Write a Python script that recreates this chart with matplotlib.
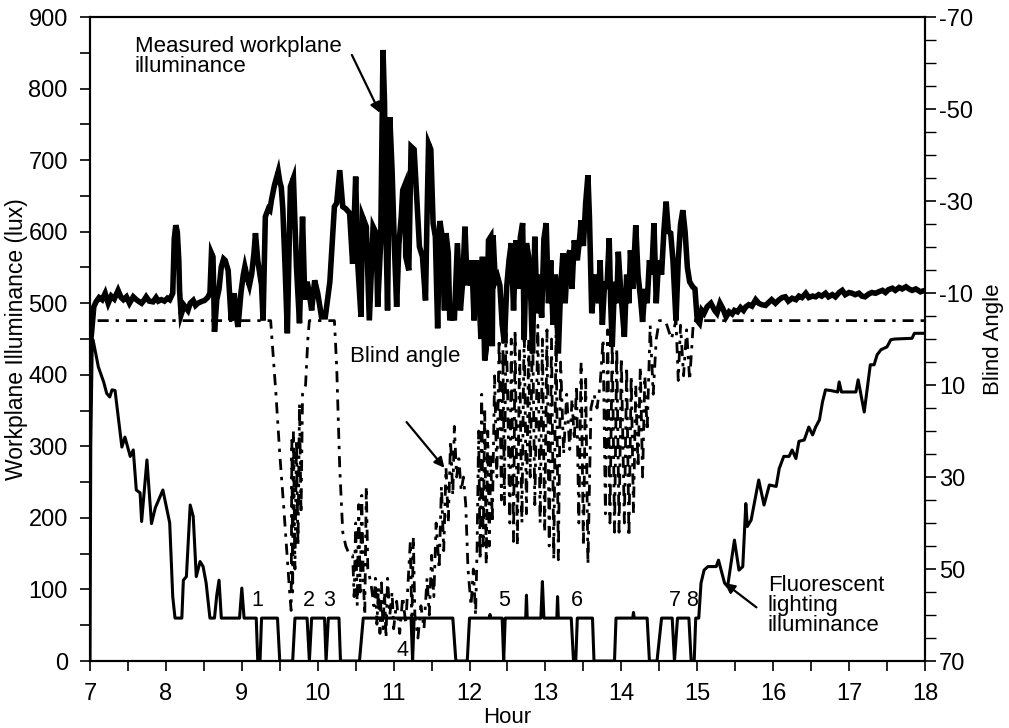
import matplotlib
matplotlib.use('Agg')
import matplotlib.pyplot as plt
from matplotlib.ticker import MultipleLocator

plt.rcParams['font.family'] = ['Liberation Sans', 'DejaVu Sans']
plt.rcParams['font.size'] = 15

# measured workplane illuminance (lux)
meas_h = [7.00, 7.02, 7.05, 7.08, 7.12, 7.16, 7.20, 7.24, 7.28, 7.32, 7.37, 7.41, 7.44, 7.48, 7.52, 7.57,
          7.61, 7.65, 7.68, 7.71, 7.74, 7.78, 7.83, 7.87, 7.90, 7.94, 7.98, 8.02, 8.05, 8.09, 8.11, 8.13,
          8.15, 8.17, 8.18, 8.20, 8.24, 8.29, 8.32, 8.36, 8.39, 8.42, 8.46, 8.51, 8.55, 8.58, 8.60, 8.62,
          8.63, 8.64, 8.67, 8.70, 8.73, 8.76, 8.78, 8.82, 8.86, 8.88, 8.90, 8.93, 8.95, 8.99, 9.02, 9.04,
          9.08, 9.10, 9.13, 9.16, 9.18, 9.21, 9.26, 9.28, 9.31, 9.35, 9.37, 9.39, 9.43, 9.48, 9.50, 9.52,
          9.54, 9.57, 9.60, 9.64, 9.68, 9.72, 9.76, 9.80, 9.83, 9.86, 9.88, 9.92, 9.96, 10.00, 10.05, 10.10,
          10.16, 10.22, 10.25, 10.29, 10.33, 10.37, 10.42, 10.46, 10.50, 10.53, 10.57, 10.59, 10.64, 10.68,
          10.73, 10.77, 10.79, 10.83, 10.86, 10.88, 10.90, 10.92, 10.95, 10.98, 11.01, 11.04, 11.07, 11.10,
          11.12, 11.15, 11.16, 11.20, 11.23, 11.27, 11.30, 11.34, 11.38, 11.42, 11.44, 11.46, 11.49, 11.52,
          11.55, 11.58, 11.61, 11.64, 11.67, 11.69, 11.72, 11.74, 11.77, 11.80, 11.84, 11.88, 11.91, 11.94,
          11.97, 12.00, 12.03, 12.06, 12.09, 12.12, 12.15, 12.17, 12.20, 12.22, 12.25, 12.28, 12.30, 12.31,
          12.34, 12.37, 12.40, 12.43, 12.46, 12.49, 12.52, 12.55, 12.58, 12.61, 12.64, 12.67, 12.70, 12.72,
          12.75, 12.78, 12.81, 12.83, 12.86, 12.89, 12.92, 12.95, 12.98, 13.01, 13.04, 13.07, 13.10, 13.13,
          13.15, 13.17, 13.20, 13.23, 13.26, 13.29, 13.32, 13.35, 13.38, 13.42, 13.45, 13.47, 13.50, 13.53,
          13.56, 13.58, 13.61, 13.64, 13.67, 13.70, 13.72, 13.75, 13.78, 13.81, 13.84, 13.86, 13.88, 13.91,
          13.94, 13.96, 13.99, 14.02, 14.04, 14.07, 14.10, 14.12, 14.15, 14.19, 14.22, 14.25, 14.28, 14.31,
          14.34, 14.37, 14.40, 14.43, 14.46, 14.49, 14.53, 14.56, 14.59, 14.62, 14.65, 14.68, 14.72, 14.75,
          14.78, 14.81, 14.84, 14.87, 14.90, 14.94, 14.97, 15.00, 15.03, 15.06, 15.09, 15.13, 15.18, 15.23,
          15.26, 15.30, 15.34, 15.38, 15.42, 15.46, 15.49, 15.53, 15.57, 15.61, 15.64, 15.68, 15.72, 15.77,
          15.81, 15.85, 15.90, 15.94, 15.98, 16.03, 16.08, 16.12, 16.16, 16.20, 16.25, 16.30, 16.34, 16.38,
          16.43, 16.47, 16.52, 16.56, 16.60, 16.64, 16.69, 16.73, 16.78, 16.82, 16.87, 16.91, 16.95, 17.00,
          17.04, 17.08, 17.13, 17.17, 17.21, 17.26, 17.30, 17.35, 17.39, 17.44, 17.48, 17.52, 17.57, 17.61,
          17.66, 17.70, 17.75, 17.79, 17.83, 17.88, 17.94, 18.00]
meas_lux = [440, 458, 495, 502, 508, 505, 514, 500, 510, 506, 518, 508, 505, 509, 500, 509,
            505, 502, 500, 504, 509, 503, 502, 508, 503, 505, 503, 507, 505, 514, 590, 609,
            600, 560, 518, 484, 497, 490, 500, 504, 497, 500, 502, 504, 508, 514, 570, 565,
            518, 460, 505, 520, 551, 562, 560, 546, 476, 495, 514, 480, 467, 516, 540, 551,
            532, 525, 541, 570, 598, 560, 525, 476, 621, 632, 630, 644, 665, 684, 670, 662,
            632, 551, 458, 663, 675, 551, 472, 621, 505, 530, 520, 490, 532, 514, 481, 481,
            530, 635, 640, 686, 635, 632, 626, 555, 677, 551, 481, 621, 607, 476,
            607, 598, 495, 586, 854, 781, 598, 490, 760, 685, 580, 495, 583, 620,
            658, 666, 565, 546, 719, 715, 657, 579, 565, 504, 620, 723, 715, 612,
            593, 465, 615, 593, 490, 598, 570, 476, 495, 476, 584, 490, 530, 607,
            525, 540, 560, 476, 560, 525, 450, 565, 420, 435, 588, 593, 440, 595,
            530, 537, 525, 470, 444, 523, 560, 584, 490, 588, 520, 593, 612, 449,
            584, 565, 500, 430, 593, 486, 540, 480, 590, 612, 500, 560, 470, 540,
            520, 430, 520, 570, 500, 560, 574, 520, 588, 560, 590, 616, 580, 640,
            679, 620, 486, 520, 540, 500, 560, 470, 530, 520, 591, 500, 439, 530,
            500, 572, 520, 480, 453, 540, 500, 574, 520, 609, 540, 510, 474, 520,
            500, 560, 540, 612, 500, 560, 540, 600, 642, 600, 598, 560, 476, 560,
            610, 630, 600, 550, 530, 523, 520, 476, 472, 490, 486, 495, 500, 490,
            486, 500, 492, 481, 488, 485, 490, 488, 494, 490, 495, 498, 496, 505,
            500, 498, 497, 501, 505, 500, 505, 508, 509, 503, 507, 505, 510, 508,
            514, 508, 510, 509, 512, 510, 514, 509, 512, 509, 515, 518, 512, 515,
            514, 512, 514, 510, 509, 513, 515, 514, 516, 518, 515, 519, 521, 518,
            522, 520, 523, 520, 518, 520, 516, 518]

# fluorescent lighting illuminance (lux)
fl_h = [7.00, 7.01, 7.03, 7.04, 7.11, 7.18, 7.22, 7.26, 7.29, 7.33, 7.42, 7.46, 7.53, 7.57, 7.61, 7.66,
        7.68, 7.75, 7.81, 7.86, 7.96, 8.05, 8.09, 8.12, 8.21, 8.23, 8.27, 8.32, 8.36, 8.40, 8.45, 8.49,
        8.53, 8.58, 8.64, 8.67, 8.70, 8.73, 8.97, 9.00, 9.03, 9.19, 9.21, 9.24, 9.26, 9.47, 9.50, 9.67,
        9.70, 9.86, 9.89, 9.92, 10.09, 10.11, 10.14, 10.28, 10.30, 10.55, 10.60, 11.23, 11.25, 11.27,
        11.78, 11.82, 11.97, 12.00, 12.26, 12.27, 12.28, 12.43, 12.45, 12.47, 12.74, 12.75, 12.76, 12.94,
        12.96, 12.98, 13.15, 13.16, 13.17, 13.34, 13.37, 13.40, 13.42, 13.62, 13.64, 13.91, 13.93, 14.15,
        14.16, 14.17, 14.34, 14.37, 14.47, 14.53, 14.67, 14.70, 14.74, 14.89, 14.92, 14.96, 14.98, 15.02,
        15.05, 15.09, 15.14, 15.25, 15.28, 15.36, 15.40, 15.49, 15.55, 15.60, 15.64, 15.66, 15.71, 15.81,
        15.88, 15.95, 16.04, 16.08, 16.14, 16.21, 16.25, 16.30, 16.34, 16.41, 16.47, 16.52, 16.56, 16.61,
        16.65, 16.69, 16.76, 16.85, 16.87, 16.90, 17.09, 17.12, 17.20, 17.28, 17.33, 17.37, 17.42, 17.50,
        17.55, 17.60, 17.83, 17.86, 17.94, 18.00]
fl_lux = [0, 300, 449, 449, 411, 390, 374, 369, 379, 378, 299, 313, 286, 295, 239, 235,
          195, 281, 192, 214, 239, 193, 90, 60, 60, 113, 118, 218, 202, 118, 139, 132,
          109, 60, 60, 92, 113, 60, 60, 102, 60, 60, 0, 0, 60, 60, 0, 0,
          60, 60, 0, 60, 60, 0, 60, 60, 0, 0, 60, 60, 0, 60,
          60, 0, 0, 60, 60, 65, 60, 60, 0, 60, 60, 92, 60, 60,
          111, 60, 60, 90, 60, 60, 0, 0, 60, 60, 0, 0, 60, 60,
          68, 60, 60, 0, 0, 60, 60, 0, 60, 60, 0, 0, 60, 60,
          109, 127, 132, 132, 141, 109, 104, 169, 127, 132, 220, 188, 197, 253,
          218, 246, 244, 269, 286, 286, 295, 283, 307, 309, 327, 316, 327, 337,
          362, 379, 378, 376, 390, 376, 376, 393, 348, 414, 414, 428, 435, 439,
          449, 450, 451, 458, 458, 458]

# blind angle (degrees, right axis)
bl_h = [7.10, 9.38, 9.45, 9.50, 9.55, 9.60, 9.63, 9.65, 9.66, 9.67, 9.68, 9.70, 9.72, 9.74, 9.76, 9.78,
        9.80, 9.84, 9.87, 9.89, 10.22, 10.25, 10.29, 10.33, 10.37, 10.42, 10.46, 10.48, 10.50, 10.52,
        10.54, 10.56, 10.58, 10.60, 10.62, 10.64, 10.66, 10.70, 10.74, 10.76, 10.78, 10.80, 10.82, 10.84,
        10.86, 10.88, 10.90, 10.92, 10.95, 10.98, 11.00, 11.04, 11.08, 11.12, 11.16, 11.20, 11.22, 11.24,
        11.26, 11.28, 11.32, 11.36, 11.40, 11.44, 11.47, 11.50, 11.53, 11.56, 11.60, 11.63, 11.66, 11.69,
        11.72, 11.75, 11.78, 11.80, 11.83, 11.86, 11.89, 11.92, 11.95, 11.98, 12.02, 12.05, 12.08, 12.10,
        12.12, 12.14, 12.16, 12.18, 12.20, 12.22, 12.24, 12.26, 12.28, 12.30, 12.33, 12.36, 12.39, 12.42,
        12.44, 12.46, 12.48, 12.50, 12.53, 12.55, 12.58, 12.60, 12.63, 12.66, 12.69, 12.72, 12.75, 12.78,
        12.80, 12.83, 12.86, 12.90, 12.93, 12.96, 12.99, 13.02, 13.05, 13.08, 13.11, 13.14, 13.17, 13.20,
        13.24, 13.28, 13.32, 13.35, 13.38, 13.41, 13.44, 13.47, 13.50, 13.53, 13.56, 13.60, 13.64, 13.68,
        13.72, 13.76, 13.79, 13.82, 13.85, 13.88, 13.91, 13.94, 13.97, 14.00, 14.04, 14.07, 14.10, 14.13,
        14.16, 14.19, 14.22, 14.25, 14.28, 14.31, 14.34, 14.38, 14.42, 14.46, 14.50, 14.58, 14.66, 14.72,
        14.75, 14.78, 14.82, 14.86, 14.90, 14.95, 18.00]
bl_deg = [-4, -4, 12, 25, 36, 48, 55, 59, 22, 55, 20, 50, 22, 45, 14, 38,
          12, 10, 0, -4, -4, 6, 28, 42, 45, 47, 47, 56, 40, 58,
          36, 55, 34, 52, 60, 32, 50, 53, 58, 52, 62, 54, 64, 53,
          63, 55, 65, 52, 60, 55, 63, 57, 64, 56, 62, 50, 44, 62,
          43, 60, 65, 58, 63, 52, 60, 47, 56, 40, 50, 32, 46, 28,
          40, 22, 34, 19, 30, 26, 33, 30, 36, 50, 58, 50, 60, 45,
          20, 48, 12, 45, 15, 49, 20, 45, 25, 40, 8, 30, 0, 35,
          2, 36, -4, 10, 40, 0, 44, -2, 45, 2, 40, -3, 38, 0,
          30, -4, 36, -3, 40, 0, 42, -2, 45, 0, 48, -3, 48, 5,
          25, 12, 24, 13, 22, 10, 40, 5, 45, 8, 49, 15, 12, 15,
          10, 0, 38, -2, 40, 0, 42, 2, 42, 4, 40, 6, 43, 8,
          38, 10, 28, 6, 30, 8, 20, -3, 12, 0, -4, -4, 0, -4,
          9, -3, 8, -2, 9, -4, -4]

# labels for the switching events
ev_labels = ['1', '2', '3', '4', '5', '6', '7', '8']
ev_h = [9.21, 9.88, 10.15, 11.12, 12.46, 13.42, 14.71, 14.93]
ev_lux = [84, 84, 84, 15, 84, 84, 84, 84]

fig = plt.figure(figsize=(10.09, 7.28), dpi=100)
ax = fig.add_axes([0.0892, 0.092, 0.8275, 0.8846])
ax2 = ax.twinx()

ax.plot(meas_h, meas_lux, color='black', lw=4.0, solid_joinstyle='miter', zorder=3)
ax.plot(fl_h, fl_lux, color='black', lw=2.2, zorder=3)
ax2.plot(bl_h, bl_deg, color='black', lw=2.0, linestyle=(0, (4, 2.5, 1.2, 2.5)), zorder=2)

ax.set_xlim(7, 18)
ax.set_ylim(0, 900)
ax2.set_ylim(70, -70)

ax.xaxis.set_major_locator(MultipleLocator(1))
ax.xaxis.set_minor_locator(MultipleLocator(0.5))
ax.yaxis.set_major_locator(MultipleLocator(100))
ax.yaxis.set_minor_locator(MultipleLocator(50))
ax2.set_yticks([-70, -50, -30, -10, 10, 30, 50, 70])
ax2.set_yticklabels(['-70', '-50', '-30', '-10', '10', '30', '50', '70'])
ax2.yaxis.set_minor_locator(MultipleLocator(5))

ax.tick_params(axis='x', which='both', direction='out', length=7, width=1.2, labelsize=17, pad=9, top=False)
ax.tick_params(axis='y', which='both', direction='out', length=7, width=1.2, labelsize=17, pad=9)
ax2.tick_params(axis='y', which='major', direction='out', length=8, width=1.2, labelsize=17, pad=2)
ax2.tick_params(axis='y', which='minor', direction='out', length=8, width=1.0)

for a in (ax, ax2):
    for s in a.spines.values():
        s.set_linewidth(1.5)

ax.set_xlabel('Hour', fontsize=16, labelpad=1)
ax.set_ylabel('Workplane Illuminance (lux)', fontsize=16.5, labelpad=0)
ax2.set_ylabel('Blind Angle', fontsize=16, labelpad=7)

arrow = dict(arrowstyle='-|>', color='black', lw=1.6, mutation_scale=15, shrinkA=0, shrinkB=0)
ax.text(7.59, 874, 'Measured workplane\nilluminance', ha='left', va='top', fontsize=16, linespacing=0.95)
ax.annotate('', xy=(10.82, 766), xytext=(10.45, 847), arrowprops=arrow)

ax.text(10.42, 426, 'Blind angle', ha='left', va='center', fontsize=16)
ax.annotate('', xy=(11.67, 270), xytext=(11.17, 334), arrowprops=arrow)

ax.text(15.93, 78, 'Fluorescent\nlighting\nilluminance', ha='left', va='center', fontsize=16, linespacing=0.95)
ax.annotate('', xy=(15.36, 109), xytext=(15.78, 75), arrowprops=arrow)

for lab, h, v in zip(ev_labels, ev_h, ev_lux):
    ax.text(h, v, lab, ha='center', va='center', fontsize=15.5)

fig.savefig('out.png', dpi=100)
